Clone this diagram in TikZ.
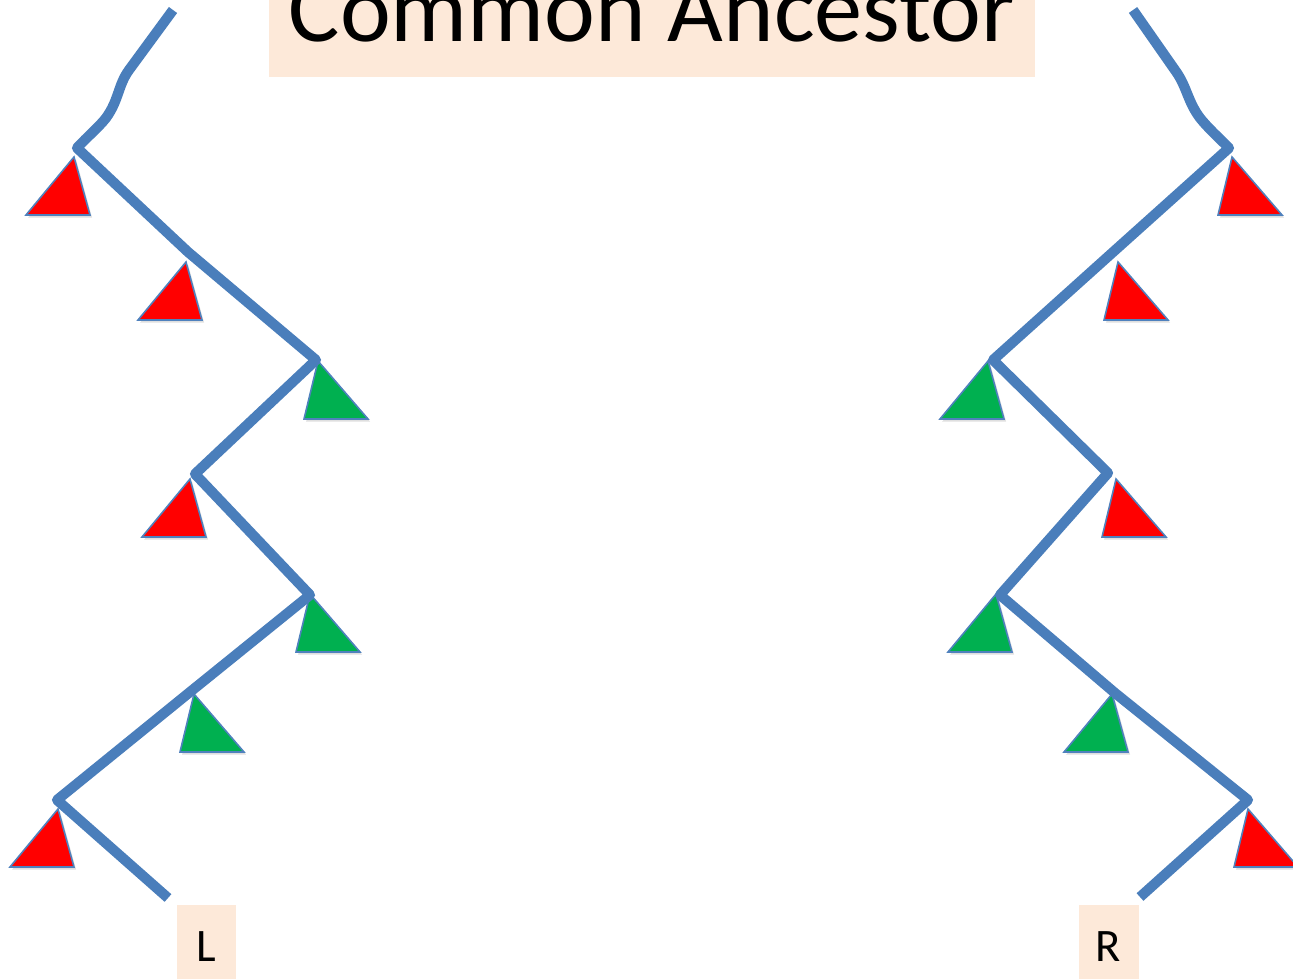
\documentclass[tikz,border=0pt]{standalone}
\usepackage{fontspec}
\setmainfont{Carlito}
\usetikzlibrary{shadows}
\definecolor{branch}{HTML}{4A7EBB}
\definecolor{peach}{HTML}{FDE9D9}
\definecolor{tred}{HTML}{FF0000}
\definecolor{tgreen}{HTML}{00B050}
\definecolor{tedge}{HTML}{4F81BD}
\tikzset{
  branchline/.style={draw=branch, line width=5.8pt, line join=round},
  tri/.style={draw=tedge, line width=0.9pt, line join=miter,
    drop shadow={opacity=0.25, shadow xshift=1.2pt, shadow yshift=-1.5pt}},
  redtri/.style={tri, fill=tred},
  greentri/.style={tri, fill=tgreen},
  titlebox/.style={fill=peach, font=\fontsize{54.8}{60}\selectfont, inner xsep=0.39cm, inner ysep=0.68cm},
  leafbox/.style={fill=peach, font=\fontsize{26.5}{30}\selectfont, inner xsep=0pt, inner ysep=0.52cm, minimum width=1.2cm},
}
\begin{document}
\begin{tikzpicture}[x=0.02cm, y=-0.02cm]
\useasboundingbox (0,0) rectangle (1293,979);
\clip (0,0) rectangle (1293,979);

% title
\node[titlebox, anchor=base] (title) at (652,42) {Common Ancestor};

% leaf labels
\node[leafbox, anchor=base] (L) at (206.5,961) {L};
\node[leafbox, anchor=base] (R) at (1108.5,961) {R};

% left lineage vertices
\coordinate (lt) at (173,10);
\coordinate (lw1) at (129,70);
\coordinate (lw2) at (106,118);
\coordinate (l1) at (77,148);
\coordinate (l2) at (188,252);
\coordinate (l3) at (316,360);
\coordinate (l4) at (195,474);
\coordinate (l5) at (310,595);
\coordinate (l6) at (190,692);
\coordinate (l7) at (57,800);
\coordinate (le) at (168,898);

% right lineage vertices
\coordinate (rt) at (1133,10);
\coordinate (rw1) at (1177,73);
\coordinate (rw2) at (1200,118);
\coordinate (r1) at (1229,148);
\coordinate (r2) at (1112,253);
\coordinate (r3) at (993,360);
\coordinate (r4) at (1108,473);
\coordinate (r5) at (1000,595);
\coordinate (r6) at (1115,693);
\coordinate (r7) at (1248,800);
\coordinate (re) at (1140,897);

% triangles (left)
\path[redtri]   (26,215)  -- ++(64,0) -- ++(-16,-58) -- cycle;
\path[redtri]   (138,320) -- ++(64,0) -- ++(-16,-58) -- cycle;
\path[greentri] (304,419) -- ++(64,0) -- ++(-50,-58) -- cycle;
\path[redtri]   (142,537) -- ++(64,0) -- ++(-16,-58) -- cycle;
\path[greentri] (296,652) -- ++(64,0) -- ++(-50,-58) -- cycle;
\path[greentri] (180,752) -- ++(64,0) -- ++(-50,-58) -- cycle;
\path[redtri]   (10,867)  -- ++(64,0) -- ++(-16,-58) -- cycle;

% triangles (right)
\path[redtri]   (1218,215) -- ++(64,0) -- ++(-50,-58) -- cycle;
\path[redtri]   (1104,320) -- ++(64,0) -- ++(-50,-58) -- cycle;
\path[greentri] (940,419)  -- ++(64,0) -- ++(-16,-58) -- cycle;
\path[redtri]   (1102,537) -- ++(64,0) -- ++(-50,-58) -- cycle;
\path[greentri] (948,652)  -- ++(64,0) -- ++(-16,-58) -- cycle;
\path[greentri] (1064,752) -- ++(64,0) -- ++(-16,-58) -- cycle;
\path[redtri]   (1234,867) -- ++(64,0) -- ++(-50,-58) -- cycle;

% lineages
\draw[branchline] (lt) -- (lw1) .. controls (118,85) and (119,100) .. (lw2)
  .. controls (98,128) and (88,136) .. (l1)
  -- (l2) -- (l3) -- (l4) -- (l5) -- (l6) -- (l7) -- (le);
\draw[branchline] (rt) -- (rw1) .. controls (1187,88) and (1188,102) .. (rw2)
  .. controls (1208,128) and (1218,137) .. (r1)
  -- (r2) -- (r3) -- (r4) -- (r5) -- (r6) -- (r7) -- (re);
\end{tikzpicture}
\end{document}
